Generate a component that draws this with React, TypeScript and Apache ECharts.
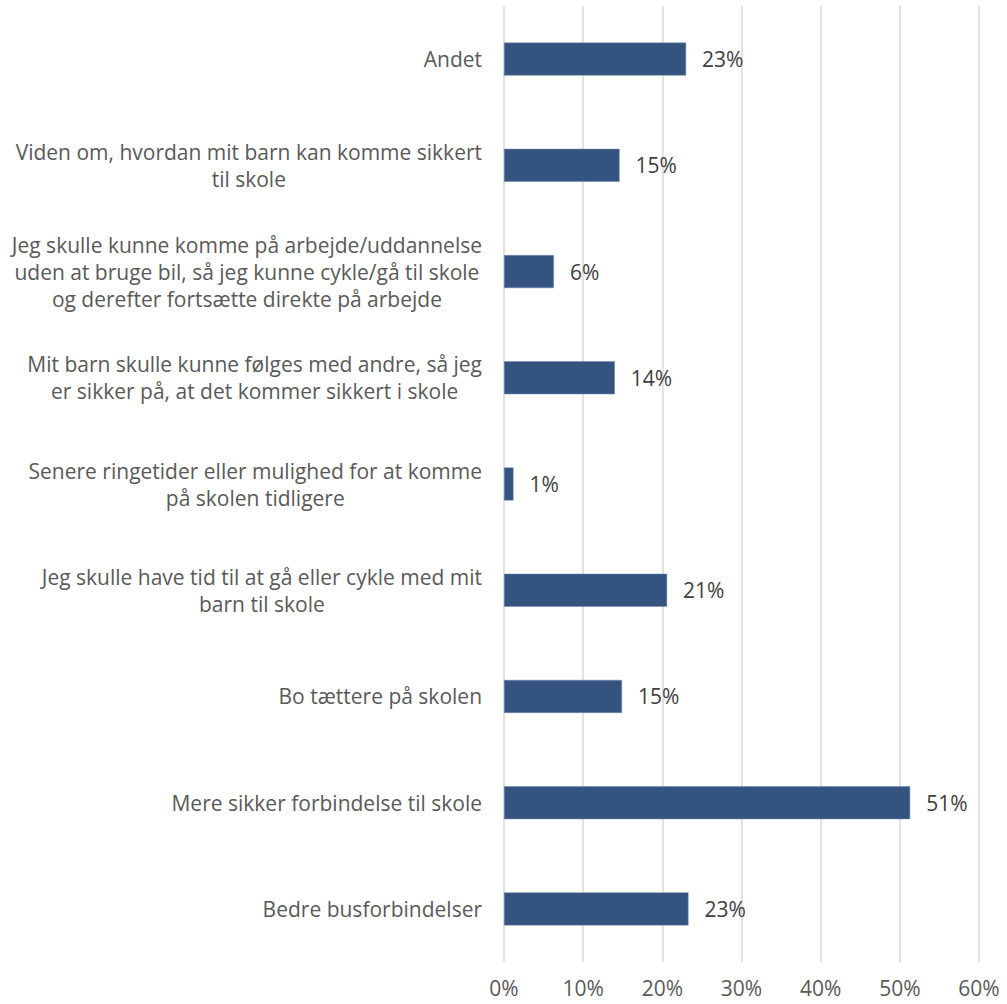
import React, { useEffect, useRef } from "react";
import * as echarts from "echarts";

const categories: string[] = [
  "Andet",
  "Viden om, hvordan mit barn kan komme sikkert\ntil skole",
  "Jeg skulle kunne komme på arbejde/uddannelse\nuden at bruge bil, så jeg kunne cykle/gå til skole\nog derefter fortsætte direkte på arbejde",
  "Mit barn skulle kunne følges med andre, så jeg\ner sikker på, at det kommer sikkert i skole",
  "Senere ringetider eller mulighed for at komme\npå skolen tidligere",
  "Jeg skulle have tid til at gå eller cykle med mit\nbarn til skole",
  "Bo tættere på skolen",
  "Mere sikker forbindelse til skole",
  "Bedre busforbindelser",
];

const values: number[] = [23.0, 14.6, 6.3, 14.0, 1.2, 20.6, 14.9, 51.3, 23.3];

const xTicks = { min: 0, max: 60, interval: 10 };

const FONT = "Open Sans";
const FS = 21;

export default function App() {
  const ref = useRef<HTMLDivElement>(null);
  useEffect(() => {
    if (!ref.current) return;
    const chart = echarts.init(ref.current, undefined, { renderer: "svg" });
    chart.setOption({
      animation: false,
      backgroundColor: "#ffffff",
      grid: { left: 504, right: 28, top: 6, bottom: 42, containLabel: false },
      xAxis: {
        type: "value",
        min: xTicks.min,
        max: xTicks.max,
        interval: xTicks.interval,
        axisLine: { show: false },
        axisTick: { show: false },
        splitLine: { show: true, lineStyle: { color: "#d9d9d9", width: 1.5 } },
        axisLabel: {
          formatter: "{value}%",
          color: "#595959",
          fontSize: FS,
          lineHeight: FS,
          fontFamily: FONT,
          margin: 15,
        },
      },
      yAxis: {
        type: "category",
        inverse: true,
        data: categories,
        axisLine: { show: false },
        axisTick: { show: false },
        splitLine: { show: false },
        axisLabel: {
          margin: 22,
          align: "right",
          formatter: (v: string) =>
            v
              .split("\n")
              .map((l) => `{c|${l}}`)
              .join("\n"),
          rich: {
            c: {
              align: "center",
              color: "#595959",
              fontSize: FS,
              fontFamily: FONT,
              lineHeight: 27,
            },
          },
        },
      },
      series: [
        {
          type: "bar",
          data: values,
          barWidth: 33,
          itemStyle: { color: "#34537f", borderColor: "#6f8bb3", borderWidth: 0.5 },
          label: {
            show: true,
            position: "right",
            distance: 16,
            formatter: (p: any) => `${Math.round(p.value)}%`,
            color: "#404040",
            fontSize: FS,
            fontFamily: FONT,
          },
        },
      ],
    });
    return () => chart.dispose();
  }, []);
  return (
    <div
      ref={ref}
      style={{ position: "absolute", left: 0, top: 0, width: 1007, height: 1004 }}
    />
  );
}
